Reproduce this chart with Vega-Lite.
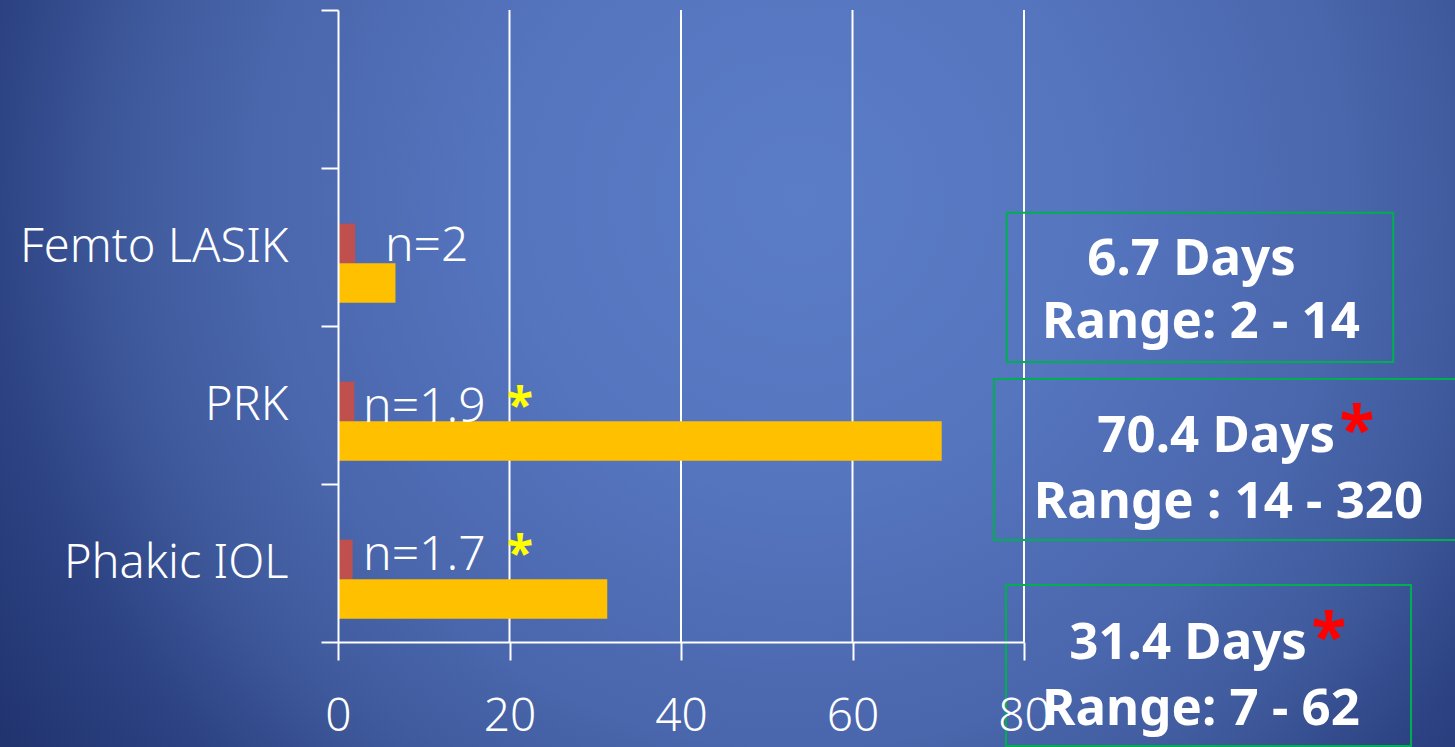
{
  "$schema": "https://vega.github.io/schema/vega-lite/v6.json",
  "width": 686,
  "height": 632,
  "autosize": {"type": "none"},
  "padding": {"left": 338, "top": 10, "right": 431, "bottom": 105},
  "background": "#3f5a9e",
  "config": {"view": {"stroke": null}, "font": "Noto Sans"},
  "datasets": {
    "bars": [
      {"method": "Femto LASIK", "series": "n", "value": 2.0},
      {"method": "Femto LASIK", "series": "days", "value": 6.7},
      {"method": "PRK", "series": "n", "value": 1.9},
      {"method": "PRK", "series": "days", "value": 70.4},
      {"method": "Phakic IOL", "series": "n", "value": 1.7},
      {"method": "Phakic IOL", "series": "days", "value": 31.4}
    ],
    "notes": [
      {"method": "Femto LASIK", "n": "n=2", "nstar": "", "days": "6.7 Days", "dstar": "", "range": "Range: 2 - 14"},
      {"method": "PRK", "n": "n=1.9", "nstar": "*", "days": "70.4 Days", "dstar": "*", "range": "Range : 14 - 320"},
      {"method": "Phakic IOL", "n": "n=1.7", "nstar": "*", "days": "31.4 Days", "dstar": "*", "range": "Range: 7 - 62"}
    ],
    "grid": [{"gridline": 20}, {"gridline": 40}, {"gridline": 60}, {"gridline": 80}]
  },
  "resolve": {"scale": {"y": "independent"}},
  "layer": [
    {
      "data": {"values": [{"layer": "background"}]},
      "mark": {
        "type": "rect",
        "fill": {
          "gradient": "radial",
          "x1": 0.55, "y1": 0.38, "r1": 0,
          "x2": 0.55, "y2": 0.38, "r2": 0.7,
          "stops": [
            {"offset": 0, "color": "#5b7cc6"},
            {"offset": 0.286, "color": "#5575bf"},
            {"offset": 0.537, "color": "#4a66ac"},
            {"offset": 0.664, "color": "#3f5a9c"},
            {"offset": 0.8, "color": "#2c4282"},
            {"offset": 0.943, "color": "#213470"},
            {"offset": 1, "color": "#1f3270"}
          ]
        }
      },
      "encoding": {
        "x": {
          "datum": -39.42, "type": "quantitative",
          "scale": {"domain": [0, 80], "nice": false, "zero": false},
          "axis": {
            "values": [0, 20, 40, 60, 80], "grid": false, "title": null, "labelColor": "#ffffff", "labelFontSize": 46,
            "labelFont": "Noto Sans", "labelFontWeight": 300, "labelPadding": 34, "labelFlush": false, "labelOverlap": false,
            "tickSize": 18, "tickColor": "#ffffff", "tickWidth": 2, "domainColor": "#ffffff", "domainWidth": 2, "zindex": 1
          }
        },
        "x2": {"datum": 130.26},
        "y": {"datum": 0, "type": "quantitative", "scale": {"domain": [0.14057, 0.98662], "nice": false, "zero": false}, "axis": null},
        "y2": {"datum": 1}
      }
    },
    {
      "layer": [
        {
          "data": {"name": "grid"},
          "mark": {"type": "rule", "color": "#ffffff", "strokeWidth": 2},
          "encoding": {"x": {"field": "gridline", "type": "quantitative"}}
        },
        {
          "data": {"name": "bars"},
          "mark": {"type": "bar"},
          "encoding": {
            "y": {
              "field": "method", "type": "nominal",
              "scale": {"domain": [" ", "Femto LASIK", "PRK", "Phakic IOL"], "paddingInner": 0, "paddingOuter": 0},
              "axis": {
                "orient": "left", "title": null, "labelColor": "#ffffff", "labelFontSize": 47, "labelFont": "Noto Sans",
                "labelFontWeight": 300, "labelPadding": 33, "labelLimit": 500, "tickBand": "extent", "tickSize": 17,
                "tickColor": "#ffffff", "tickWidth": 2, "domainColor": "#ffffff", "domainWidth": 2, "zindex": 1, "grid": false
              }
            },
            "yOffset": {
              "field": "series", "type": "nominal",
              "scale": {"domain": ["n", "days"], "paddingInner": 0, "paddingOuter": 1.257, "align": 0.7045}
            },
            "x": {
              "field": "value", "type": "quantitative",
              "scale": {"domain": [0, 80], "nice": false, "zero": false},
              "axis": {
                "values": [0, 20, 40, 60, 80], "grid": false, "title": null, "labelColor": "#ffffff", "labelFontSize": 46,
                "labelFont": "Noto Sans", "labelFontWeight": 300, "labelPadding": 34, "labelFlush": false, "labelOverlap": false,
                "tickSize": 18, "tickColor": "#ffffff", "tickWidth": 2, "domainColor": "#ffffff", "domainWidth": 2, "zindex": 1
              }
            },
            "color": {
              "field": "series", "type": "nominal",
              "scale": {"domain": ["n", "days"], "range": ["#c0504d", "#ffc000"]},
              "legend": null
            }
          }
        },
        {
          "data": {"name": "notes"},
          "transform": [{"filter": "datum.method === 'Femto LASIK'"}],
          "layer": [
            {
              "mark": {"type": "text", "align": "left", "baseline": "alphabetic", "fontSize": 48, "fontWeight": 300, "color": "#ffffff"},
              "encoding": {"x": {"datum": 5.48}, "y": {"field": "method", "type": "nominal", "bandPosition": 0.589}, "text": {"field": "n"}}
            },
            {
              "mark": {"type": "point", "shape": "M-1,-0.3863L1,-0.3863L1,0.3863L-1,0.3863Z", "size": 149382, "filled": false, "fill": null, "stroke": "#00b050", "strokeWidth": 2, "opacity": 1},
              "encoding": {"x": {"datum": 100.52}, "y": {"field": "method", "type": "nominal", "bandPosition": 0.755}}
            },
            {
              "mark": {"type": "text", "align": "center", "baseline": "alphabetic", "fontSize": 51, "fontWeight": "bold", "color": "#ffffff"},
              "encoding": {"x": {"datum": 99.53}, "y": {"field": "method", "type": "nominal", "bandPosition": 0.677}, "text": {"field": "days"}}
            },
            {
              "mark": {"type": "text", "align": "center", "baseline": "alphabetic", "fontSize": 51, "fontWeight": "bold", "color": "#ffffff"},
              "encoding": {"x": {"datum": 100.64}, "y": {"field": "method", "type": "nominal", "bandPosition": 1.076}, "text": {"field": "range"}}
            }
          ]
        },
        {
          "data": {"name": "notes"},
          "transform": [{"filter": "datum.method === 'PRK'"}],
          "layer": [
            {
              "mark": {"type": "text", "align": "left", "baseline": "alphabetic", "fontSize": 48, "fontWeight": 300, "color": "#ffffff"},
              "encoding": {"x": {"datum": 2.92}, "y": {"field": "method", "type": "nominal", "bandPosition": 0.608}, "text": {"field": "n"}}
            },
            {
              "mark": {"type": "text", "align": "left", "baseline": "alphabetic", "fontSize": 48, "fontWeight": "bold", "color": "#ffff00"},
              "encoding": {"x": {"datum": 19.71}, "y": {"field": "method", "type": "nominal", "bandPosition": 0.608}, "text": {"field": "nstar"}}
            },
            {
              "mark": {"type": "point", "shape": "M-1,-0.344L1,-0.344L1,0.344L-1,0.344Z", "size": 219024, "filled": false, "fill": null, "stroke": "#00b050", "strokeWidth": 2, "opacity": 1},
              "encoding": {"x": {"datum": 103.79}, "y": {"field": "method", "type": "nominal", "bandPosition": 0.845}}
            },
            {
              "mark": {"type": "text", "align": "right", "baseline": "alphabetic", "fontSize": 51, "fontWeight": "bold", "color": "#ffffff"},
              "encoding": {"x": {"datum": 116.27}, "y": {"field": "method", "type": "nominal", "bandPosition": 0.797}, "text": {"field": "days"}}
            },
            {
              "mark": {"type": "text", "align": "left", "baseline": "alphabetic", "fontSize": 64, "fontWeight": "bold", "color": "#ff0000"},
              "encoding": {"x": {"datum": 116.8}, "y": {"field": "method", "type": "nominal", "bandPosition": 0.797}, "text": {"field": "dstar"}}
            },
            {
              "mark": {"type": "text", "align": "center", "baseline": "alphabetic", "fontSize": 51, "fontWeight": "bold", "color": "#ffffff"},
              "encoding": {"x": {"datum": 103.85}, "y": {"field": "method", "type": "nominal", "bandPosition": 1.215}, "text": {"field": "range"}}
            }
          ]
        },
        {
          "data": {"name": "notes"},
          "transform": [{"filter": "datum.method === 'Phakic IOL'"}],
          "layer": [
            {
              "mark": {"type": "text", "align": "left", "baseline": "alphabetic", "fontSize": 48, "fontWeight": 300, "color": "#ffffff"},
              "encoding": {"x": {"datum": 2.92}, "y": {"field": "method", "type": "nominal", "bandPosition": 0.544}, "text": {"field": "n"}}
            },
            {
              "mark": {"type": "text", "align": "left", "baseline": "alphabetic", "fontSize": 48, "fontWeight": "bold", "color": "#ffff00"},
              "encoding": {"x": {"datum": 19.71}, "y": {"field": "method", "type": "nominal", "bandPosition": 0.544}, "text": {"field": "nstar"}}
            },
            {
              "mark": {"type": "point", "shape": "M-1,-0.3975L1,-0.3975L1,0.3975L-1,0.3975Z", "size": 164025, "filled": false, "fill": null, "stroke": "#00b050", "strokeWidth": 2, "opacity": 1},
              "encoding": {"x": {"datum": 101.52}, "y": {"field": "method", "type": "nominal", "bandPosition": 1.149}}
            },
            {
              "mark": {"type": "text", "align": "right", "baseline": "alphabetic", "fontSize": 51, "fontWeight": "bold", "color": "#ffffff"},
              "encoding": {"x": {"datum": 113.0}, "y": {"field": "method", "type": "nominal", "bandPosition": 1.108}, "text": {"field": "days"}}
            },
            {
              "mark": {"type": "text", "align": "left", "baseline": "alphabetic", "fontSize": 64, "fontWeight": "bold", "color": "#ff0000"},
              "encoding": {"x": {"datum": 113.53}, "y": {"field": "method", "type": "nominal", "bandPosition": 1.108}, "text": {"field": "dstar"}}
            },
            {
              "mark": {"type": "text", "align": "center", "baseline": "alphabetic", "fontSize": 51, "fontWeight": "bold", "color": "#ffffff"},
              "encoding": {"x": {"datum": 100.64}, "y": {"field": "method", "type": "nominal", "bandPosition": 1.525}, "text": {"field": "range"}}
            }
          ]
        }
      ]
    }
  ]
}
